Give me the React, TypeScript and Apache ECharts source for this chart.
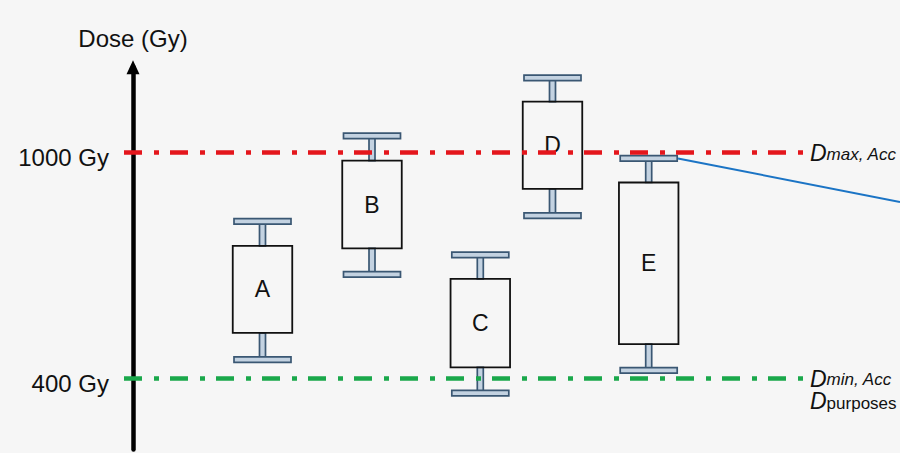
import React, { useEffect, useRef } from 'react';
import * as echarts from 'echarts';

// ---- data ----
const categories = ['A', 'B', 'C', 'D', 'E'];
const boxX = [129.5, 239, 347.3, 419.5, 515.7]; // horizontal offset from the dose axis
const whiskerLow = [449, 675, 360, 831, 420];
const boxLow = [520, 744, 428, 902, 490];
const boxHigh = [751, 977, 663, 1134, 919];
const whiskerHigh = [816, 1043, 727, 1197, 983];
const tickValues = [400, 1000];
const dMaxAcc = 1000;
const dMinAcc = 400;
const lineStartX = -9;
const lineEndX = 670;
const calloutFrom = [545, 983];
const calloutTo = [767, 867];

const FONT = '"Liberation Sans", Arial, sans-serif';

export default function App() {
  const ref = useRef<HTMLDivElement>(null);
  useEffect(() => {
    if (!ref.current) return;
    const chart = echarts.init(ref.current, null, { renderer: 'svg' });
    const boxData = boxX.map((x, i) => [x, whiskerLow[i], boxLow[i], boxHigh[i], whiskerHigh[i]]);
    const capStyle = { fill: '#c3d2e1', stroke: '#3a5773', lineWidth: 1.7 };
    const dash = [18, 12, 5, 11];
    const option: any = {
      animation: false,
      backgroundColor: '#f6f6f6',
      grid: { left: 0, right: 0, top: 67.25, bottom: 3.43, containLabel: false, outerBoundsMode: 'none' },
      xAxis: { type: 'value', min: -133, max: 767, show: false },
      yAxis: {
        type: 'value',
        min: 210,
        max: 1225,
        position: 'left',
        offset: -133,
        name: 'Dose (Gy)',
        nameLocation: 'end',
        nameGap: 17,
        nameTextStyle: { fontSize: 24, color: '#111', fontFamily: FONT, align: 'center' },
        axisLine: {
          show: true,
          onZero: false,
          symbol: ['none', 'triangle'],
          symbolSize: [13, 14],
          lineStyle: { color: '#000', width: 4.5 },
        },
        axisTick: { show: false },
        splitLine: { show: false },
        axisLabel: {
          show: true,
          customValues: tickValues,
          margin: 24,
          formatter: (v: number) => `{t|${v} Gy}`,
          rich: { t: { fontSize: 24, color: '#111', fontFamily: FONT, padding: [10, 0, 0, 0] } },
        },
      },
      series: [
        {
          type: 'custom',
          z: 2,
          clip: false,
          data: boxData,
          encode: { x: 0, y: [1, 2, 3, 4] },
          renderItem: (params: any, api: any) => {
            const x = api.value(0);
            const lo = api.coord([x, api.value(1)]);
            const q1 = api.coord([x, api.value(2)]);
            const q3 = api.coord([x, api.value(3)]);
            const hi = api.coord([x, api.value(4)]);
            const cx = lo[0];
            const bw = 59.5, cw = 57, ch = 5.5, sw = 6;
            return {
              type: 'group',
              children: [
                { type: 'rect', shape: { x: cx - sw / 2, y: hi[1], width: sw, height: q3[1] - hi[1] }, style: capStyle },
                { type: 'rect', shape: { x: cx - sw / 2, y: q1[1], width: sw, height: lo[1] - q1[1] }, style: capStyle },
                { type: 'rect', shape: { x: cx - cw / 2, y: hi[1] - ch / 2, width: cw, height: ch }, style: capStyle },
                { type: 'rect', shape: { x: cx - cw / 2, y: lo[1] - ch / 2, width: cw, height: ch }, style: capStyle },
                { type: 'rect', shape: { x: cx - bw / 2, y: q3[1], width: bw, height: q1[1] - q3[1] }, style: { fill: 'none', stroke: '#111', lineWidth: 1.8 } },
                {
                  type: 'text',
                  x: cx,
                  y: (q1[1] + q3[1]) / 2,
                  style: { text: categories[params.dataIndex], fontSize: 23, fill: '#111', align: 'center', verticalAlign: 'middle', fontFamily: FONT },
                },
              ],
            };
          },
        },
        {
          type: 'line',
          z: 5,
          clip: false,
          data: [],
          markLine: {
            silent: true,
            symbol: ['none', 'none'],
            animation: false,
            data: [
              [
                {
                  coord: [lineStartX, dMaxAcc],
                  lineStyle: { color: '#e4161c', width: 4.5, type: dash },
                  label: {
                    show: true,
                    position: 'end',
                    distance: 7,
                    formatter: '{d|D}{s|max, Acc}',
                    rich: {
                      d: { fontSize: 23, lineHeight: 22, fontStyle: 'italic', color: '#111', fontFamily: FONT, verticalAlign: 'top' },
                      s: { fontSize: 17, lineHeight: 16, fontStyle: 'italic', color: '#111', fontFamily: FONT, verticalAlign: 'bottom', padding: [11, 0, 0, 0] },
                    },
                  },
                },
                { coord: [lineEndX, dMaxAcc] },
              ],
              [
                {
                  coord: [lineStartX, dMinAcc],
                  lineStyle: { color: '#1aa84b', width: 4.5, type: dash },
                  label: {
                    show: true,
                    position: 'end',
                    distance: 7,
                    padding: [23, 0, 0, 0],
                    formatter: '{d|D}{s|min, Acc}\n{d|D}{p|purposes}',
                    rich: {
                      d: { fontSize: 23, lineHeight: 22, fontStyle: 'italic', color: '#111', fontFamily: FONT, verticalAlign: 'top' },
                      s: { fontSize: 17, lineHeight: 16, fontStyle: 'italic', color: '#111', fontFamily: FONT, verticalAlign: 'bottom', padding: [11, 0, 2, 0] },
                      p: { fontSize: 17, lineHeight: 16, color: '#111', fontFamily: FONT, verticalAlign: 'bottom', padding: [11, 0, 0, 0] },
                    },
                  },
                },
                { coord: [lineEndX, dMinAcc] },
              ],
              [
                {
                  coord: calloutFrom,
                  lineStyle: { color: '#1b74c5', width: 2, type: 'solid' },
                  label: { show: false },
                },
                { coord: calloutTo },
              ],
            ],
          },
        },
      ],
    };
    chart.setOption(option);
    return () => chart.dispose();
  }, []);
  return <div ref={ref} style={{ position: 'fixed', left: 0, top: 0, width: 900, height: 453 }} />;
}
